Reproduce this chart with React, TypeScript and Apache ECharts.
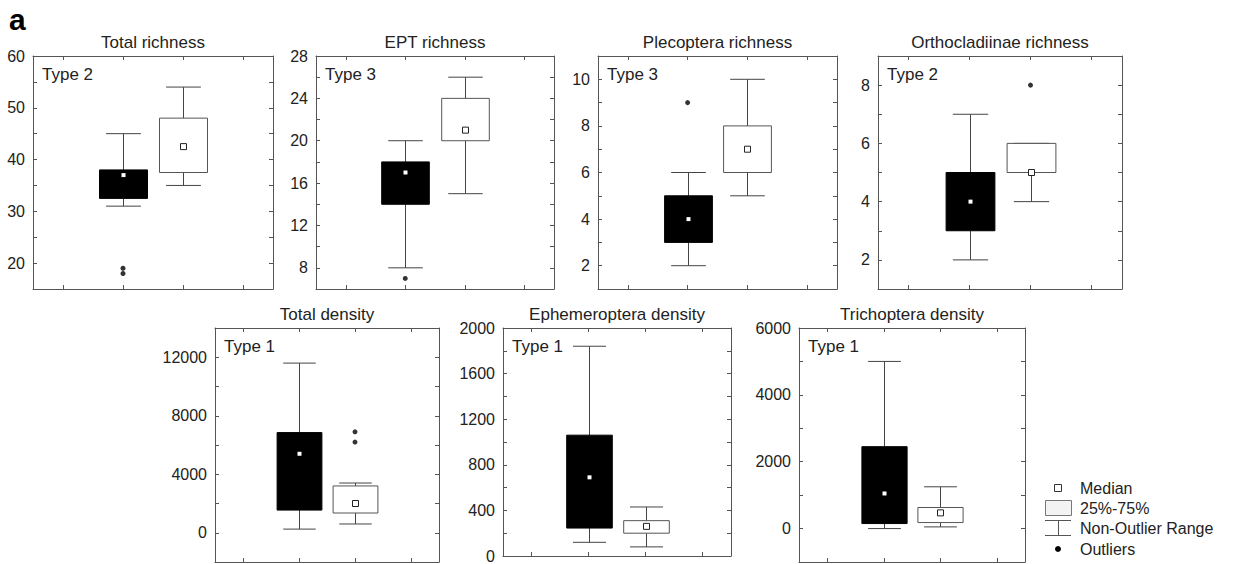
import React, { useEffect, useRef } from 'react';
import * as echarts from 'echarts';

// ---------- data ----------
const panelTitles = [
  'Total richness',
  'EPT richness',
  'Plecoptera richness',
  'Orthocladiinae richness',
  'Total density',
  'Ephemeroptera density',
  'Trichoptera density',
];
const panelTypes = ['Type 2', 'Type 3', 'Type 3', 'Type 2', 'Type 1', 'Type 1', 'Type 1'];

// slots on the x axis (first and last are empty)
const slots = ['s0', 's1', 's2', 's3'];

// [min, Q1, median, Q3, max]  (non-outlier range, box, median)
const darkStats = [
  [31, 32.5, 37, 38, 45],
  [8, 14, 17, 18, 20],
  [2, 3, 4, 5, 6],
  [2, 3, 4, 5, 7],
  [250, 1550, 5400, 6850, 11600],
  [120, 245, 690, 1060, 1840],
  [0, 150, 1050, 2450, 5000],
];
const lightStats = [
  [35, 37.5, 42.5, 48, 54],
  [15, 20, 21, 24, 26],
  [5, 6, 7, 8, 10],
  [4, 5, 5, 6, 6],
  [600, 1350, 2000, 3200, 3400],
  [80, 200, 260, 310, 430],
  [50, 180, 470, 630, 1250],
];
const darkOutliers = [[19, 18], [7], [9], [], [], [], []];
const lightOutliers = [[], [], [], [8], [6900, 6200], [], []];

// y axes: min, max, tick step, labelled values
const yMins = [15, 6, 1, 1, -2000, 0, -1000];
const yMaxs = [60, 28, 11, 9, 14000, 2000, 6000];
const ySteps = [5, 2, 1, 1, 2000, 200, 1000];
const yTickLabels = [
  [20, 30, 40, 50, 60],
  [8, 12, 16, 20, 24, 28],
  [2, 4, 6, 8, 10],
  [2, 4, 6, 8],
  [0, 4000, 8000, 12000],
  [0, 400, 800, 1200, 1600, 2000],
  [0, 2000, 4000, 6000],
];

const legendLabels = ['Median', '25%-75%', 'Non-Outlier Range', 'Outliers'];

// ---------- layout ----------
const grids = [
  { left: 33, top: 56, width: 240, height: 233 },
  { left: 316, top: 56, width: 238, height: 233 },
  { left: 598, top: 56, width: 239, height: 233 },
  { left: 878, top: 56, width: 244, height: 233 },
  { left: 215, top: 328, width: 224, height: 234 },
  { left: 503, top: 328, width: 228, height: 233 },
  { left: 799, top: 328, width: 226, height: 234 },
];

const FONT = '"Liberation Sans", Arial, Helvetica, sans-serif';
const FRAME = '#555';
const INK = '#222';

function renderBox(params: any, api: any) {
  const x = api.value(0);
  const pMin = api.coord([x, api.value(1)]);
  const pQ1 = api.coord([x, api.value(2)]);
  const pMed = api.coord([x, api.value(3)]);
  const pQ3 = api.coord([x, api.value(4)]);
  const pMax = api.coord([x, api.value(5)]);
  const dark = api.value(6) === 1;
  const band = api.size([1, 0])[0];
  const bw = band * 0.8;
  const cw = band * 0.58;
  const cx = Math.round(pMed[0]) + 0.5;
  const lineStyle = { stroke: '#444', lineWidth: 1 };
  const children: any[] = [
    { type: 'line', shape: { x1: cx, y1: pMax[1], x2: cx, y2: pQ3[1] }, style: lineStyle },
    { type: 'line', shape: { x1: cx, y1: pQ1[1], x2: cx, y2: pMin[1] }, style: lineStyle },
    { type: 'line', shape: { x1: cx - cw / 2, y1: pMax[1], x2: cx + cw / 2, y2: pMax[1] }, style: lineStyle },
    { type: 'line', shape: { x1: cx - cw / 2, y1: pMin[1], x2: cx + cw / 2, y2: pMin[1] }, style: lineStyle },
    {
      type: 'rect',
      shape: { x: cx - bw / 2, y: pQ3[1], width: bw, height: pQ1[1] - pQ3[1] },
      style: dark
        ? { fill: '#000', stroke: '#000', lineWidth: 1 }
        : { fill: '#fff', stroke: '#555', lineWidth: 1 },
    },
    dark
      ? { type: 'rect', shape: { x: cx - 2, y: pMed[1] - 2, width: 4, height: 4 }, style: { fill: '#fff' } }
      : {
          type: 'rect',
          shape: { x: cx - 3, y: pMed[1] - 3, width: 6, height: 6 },
          style: { fill: '#fff', stroke: '#222', lineWidth: 1 },
        },
  ];
  return { type: 'group', children };
}

function buildOption() {
  const xAxis: any[] = [];
  const yAxis: any[] = [];
  const series: any[] = [];
  const graphic: any[] = [];
  const axisLine = { show: true, onZero: false, lineStyle: { color: FRAME, width: 1 } };
  const axisTick = { show: true, inside: true, length: 4, lineStyle: { color: FRAME } };

  grids.forEach((g, i) => {
    xAxis.push({
      type: 'category', gridIndex: i, data: slots, position: 'bottom',
      axisLine, axisTick: { ...axisTick, alignWithLabel: true, interval: 0 },
      axisLabel: { show: false }, splitLine: { show: false },
    });
    xAxis.push({
      type: 'category', gridIndex: i, data: slots, position: 'top',
      axisLine, axisTick: { ...axisTick, alignWithLabel: true, interval: 0 },
      axisLabel: { show: false }, splitLine: { show: false },
    });
    const labels = yTickLabels[i];
    yAxis.push({
      type: 'value', gridIndex: i, position: 'left',
      min: yMins[i], max: yMaxs[i], interval: ySteps[i],
      axisLine, axisTick, splitLine: { show: false },
      axisLabel: {
        show: true, margin: 8, fontSize: 16, fontFamily: FONT, color: INK,
        showMinLabel: true, showMaxLabel: true,
        formatter: (v: number) => (labels.indexOf(v) >= 0 ? String(v) : ''),
      },
    });
    yAxis.push({
      type: 'value', gridIndex: i, position: 'right',
      min: yMins[i], max: yMaxs[i], interval: ySteps[i],
      axisLine, axisTick, splitLine: { show: false }, axisLabel: { show: false },
    });

    const boxData = [
      [1, ...darkStats[i], 1],
      [2, ...lightStats[i], 0],
    ];
    series.push({
      type: 'custom', xAxisIndex: 2 * i, yAxisIndex: 2 * i,
      renderItem: renderBox, data: boxData, silent: true,
      encode: { x: 0, y: [1, 2, 3, 4, 5] },
    });
    const outl = [
      ...darkOutliers[i].map((v) => [1, v]),
      ...lightOutliers[i].map((v) => [2, v]),
    ];
    series.push({
      type: 'scatter', xAxisIndex: 2 * i, yAxisIndex: 2 * i,
      data: outl, symbol: 'circle', symbolSize: 5,
      itemStyle: { color: '#000' }, silent: true,
    });

    graphic.push({
      type: 'text', x: g.left + g.width / 2, y: g.top - 14,
      style: {
        text: panelTitles[i], fontSize: 17, fontFamily: FONT, fill: INK,
        textAlign: 'center', textVerticalAlign: 'middle',
      },
    });
    graphic.push({
      type: 'text', x: g.left + 9, y: g.top + 18,
      style: {
        text: panelTypes[i], fontSize: 17, fontFamily: FONT, fill: INK,
        textAlign: 'left', textVerticalAlign: 'middle',
      },
    });
  });

  // panel letter
  graphic.push({
    type: 'text', x: 9, y: 19,
    style: {
      text: 'a', fontSize: 30, fontWeight: 'bold', fontFamily: FONT, fill: '#000',
      textAlign: 'left', textVerticalAlign: 'middle',
    },
  });

  // legend
  const lx = 1058;
  const tx = 1080;
  const ly = [488, 508, 528, 549];
  graphic.push({ type: 'rect', shape: { x: lx - 3.5, y: ly[0] - 3.5, width: 7, height: 7 }, style: { fill: '#fff', stroke: '#333', lineWidth: 1 } });
  graphic.push({ type: 'rect', shape: { x: 1045.5, y: 500.5, width: 26, height: 15 }, style: { fill: '#f3f3f3', stroke: '#777', lineWidth: 1 } });
  graphic.push({ type: 'line', shape: { x1: 1045, y1: 520.5, x2: 1071, y2: 520.5 }, style: { stroke: '#555', lineWidth: 1 } });
  graphic.push({ type: 'line', shape: { x1: 1045, y1: 535.5, x2: 1071, y2: 535.5 }, style: { stroke: '#555', lineWidth: 1 } });
  graphic.push({ type: 'line', shape: { x1: lx + 0.5, y1: 520.5, x2: lx + 0.5, y2: 535.5 }, style: { stroke: '#555', lineWidth: 1 } });
  graphic.push({ type: 'circle', shape: { cx: lx, cy: ly[3], r: 3 }, style: { fill: '#000' } });
  legendLabels.forEach((t, k) => {
    graphic.push({
      type: 'text', x: tx, y: ly[k],
      style: { text: t, fontSize: 16, fontFamily: FONT, fill: INK, textAlign: 'left', textVerticalAlign: 'middle' },
    });
  });

  return {
    animation: false,
    backgroundColor: '#fff',
    grid: grids.map((g) => ({ ...g, containLabel: false })),
    xAxis,
    yAxis,
    series,
    graphic,
  };
}

export default function App() {
  const ref = useRef<HTMLDivElement>(null);
  useEffect(() => {
    if (!ref.current) return;
    const chart = echarts.init(ref.current, undefined, { renderer: 'svg' });
    chart.setOption(buildOption() as any);
    return () => chart.dispose();
  }, []);
  return (
    <div
      ref={ref}
      style={{ position: 'fixed', left: 0, top: 0, width: 1233, height: 564, background: '#fff' }}
    />
  );
}
